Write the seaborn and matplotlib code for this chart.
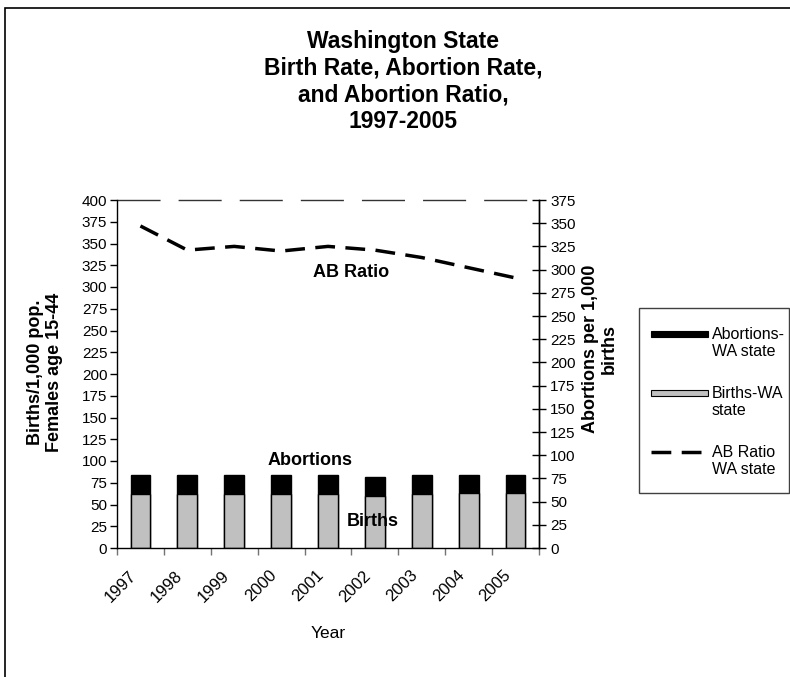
import matplotlib
matplotlib.use("Agg")
import matplotlib.pyplot as plt
import matplotlib.transforms as mtransforms
from matplotlib.patches import Rectangle
from matplotlib.lines import Line2D
import seaborn as sns
import numpy as np
import pandas as pd

# values
years = ['1997', '1998', '1999', '2000', '2001', '2002', '2003', '2004', '2005']
births = [61.6, 61.6, 61.6, 61.6, 61.6, 60.1, 61.6, 63.5, 63.5]        # per 1,000 females 15-44
abortions = [21.9, 21.9, 21.9, 22.7, 21.9, 21.9, 21.9, 20.0, 20.0]     # per 1,000 females 15-44
ab_ratio = [347, 321, 325, 320, 325, 321, 313, 302, 291]                # abortions per 1,000 births

df = pd.DataFrame({'year': years, 'births': births, 'abortions': abortions, 'ratio': ab_ratio})
df['total'] = df['births'] + df['abortions']

sns.set_theme(style='ticks')
plt.rcParams['font.family'] = ['Liberation Sans', 'DejaVu Sans']
plt.rcParams['axes.edgecolor'] = 'black'
plt.rcParams['axes.linewidth'] = 1.0
plt.rcParams['text.color'] = 'black'
plt.rcParams['axes.labelcolor'] = 'black'
plt.rcParams['xtick.color'] = 'black'
plt.rcParams['ytick.color'] = 'black'

W, H = 790, 677
fig = plt.figure(figsize=(W / 100, H / 100), dpi=100)


def fx(px):
    return px / W


def fy(py):
    return 1 - py / H


ax = fig.add_axes([fx(117), fy(548), fx(539) - fx(117), fy(200) - fy(548)])

dash_ratio = (0, (5.7, 3.0))

# stacked bars: black total behind, grey births in front
sns.barplot(data=df, x='year', y='total', color='black', saturation=1, width=0.42,
            edgecolor='black', linewidth=1, errorbar=None, ax=ax)
sns.barplot(data=df, x='year', y='births', color='#c0c0c0', saturation=1, width=0.42,
            edgecolor='black', linewidth=1, errorbar=None, ax=ax)

ax.set_xlim(-0.5, len(years) - 0.5)
ax.set_ylim(0, 400)
ax.set_yticks(np.arange(0, 401, 25))
ax.tick_params(axis='y', direction='out', length=5, width=1, labelsize=11, pad=2)

pos = np.arange(len(years))
ax.set_xticks(np.arange(-0.5, len(years), 1.0))
ax.set_xticklabels([])
ax.set_xticks(pos, years, minor=True)
ax.tick_params(axis='x', which='major', direction='out', length=5, width=1, color='0.45')
ax.tick_params(axis='x', which='minor', length=0, labelsize=12, pad=18)
shift = mtransforms.ScaledTranslation(-5 / 72, 0, fig.dpi_scale_trans)
for t in ax.get_xticklabels(minor=True):
    t.set_rotation(45)
    t.set_ha('right')
    t.set_va('center')
    t.set_rotation_mode('anchor')
    t.set_transform(t.get_transform() + shift)
ax.set_xlabel('Year', fontsize=12.5, labelpad=15)
ax.set_ylabel('')
ax.spines['top'].set_visible(False)

# dashed top border
ax.axhline(400, color='0.2', lw=1, linestyle=(0, (31, 13)), clip_on=False)

# right axis: AB ratio
ax2 = ax.twinx()
sns.lineplot(x=pos, y=df['ratio'], color='black', lw=2.5, ax=ax2)
ax2.lines[0].set_linestyle(dash_ratio)
ax2.lines[0].set_dash_capstyle('butt')
ax2.set_ylim(0, 375)
ax2.set_yticks(np.arange(0, 376, 25))
ax2.tick_params(axis='y', direction='inout', length=10, width=1, labelsize=11, pad=3)
ax2.set_ylabel('')
for s in ['top', 'left', 'bottom']:
    ax2.spines[s].set_visible(False)

# in-plot labels
ax.text(4.49, 317, 'AB Ratio', fontsize=13, fontweight='bold', ha='center', va='center')
ax.text(3.62, 101, 'Abortions', fontsize=13, fontweight='bold', ha='center', va='center')
ax.text(4.96, 30, 'Births', fontsize=13, fontweight='bold', ha='center', va='center')

# title and axis titles
fig.text(fx(403), fy(30), 'Washington State\nBirth Rate, Abortion Rate,\nand Abortion Ratio,\n1997-2005',
         fontsize=16.5, fontweight='bold', ha='center', va='top', multialignment='center')
fig.text(fx(45), fy(372), 'Births/1,000 pop.\nFemales age 15-44', fontsize=13, fontweight='bold',
         rotation=90, ha='center', va='center', multialignment='center')
fig.text(fx(600), fy(349), 'Abortions per 1,000\nbirths', fontsize=13, fontweight='bold',
         rotation=90, ha='center', va='center', multialignment='center')

# chart frame (right and bottom edges lie outside the image)
fig.add_artist(Rectangle((fx(5), fy(H + 20)), fx(W + 20), fy(8) - fy(H + 20),
                         transform=fig.transFigure, fill=False, lw=1.2, edgecolor='black'))

# legend box
fig.add_artist(Rectangle((fx(639), fy(493)), fx(789) - fx(639), fy(308) - fy(493),
                         transform=fig.transFigure, fill=False, lw=1.0, edgecolor='0.25'))
rows = [334, 393, 452]
labels = ['Abortions-\nWA state', 'Births-WA\nstate', 'AB Ratio\nWA state']
fig.add_artist(Rectangle((fx(651), fy(rows[0] + 3)), fx(708) - fx(651), fy(rows[0] - 3) - fy(rows[0] + 3),
                         transform=fig.transFigure, facecolor='black', edgecolor='black', lw=0.8))
fig.add_artist(Rectangle((fx(651), fy(rows[1] + 3)), fx(708) - fx(651), fy(rows[1] - 3) - fy(rows[1] + 3),
                         transform=fig.transFigure, facecolor='#c0c0c0', edgecolor='black', lw=0.8))
fig.add_artist(Line2D([fx(651), fx(705)], [fy(rows[2]), fy(rows[2])], transform=fig.transFigure,
                      color='black', lw=2.5, linestyle=dash_ratio, dash_capstyle='butt'))
for r, lab in zip(rows, labels):
    fig.text(fx(712), fy(r + 9), lab, fontsize=11.5, ha='left', va='center', linespacing=1.1)

fig.savefig('out.png', dpi=100)
